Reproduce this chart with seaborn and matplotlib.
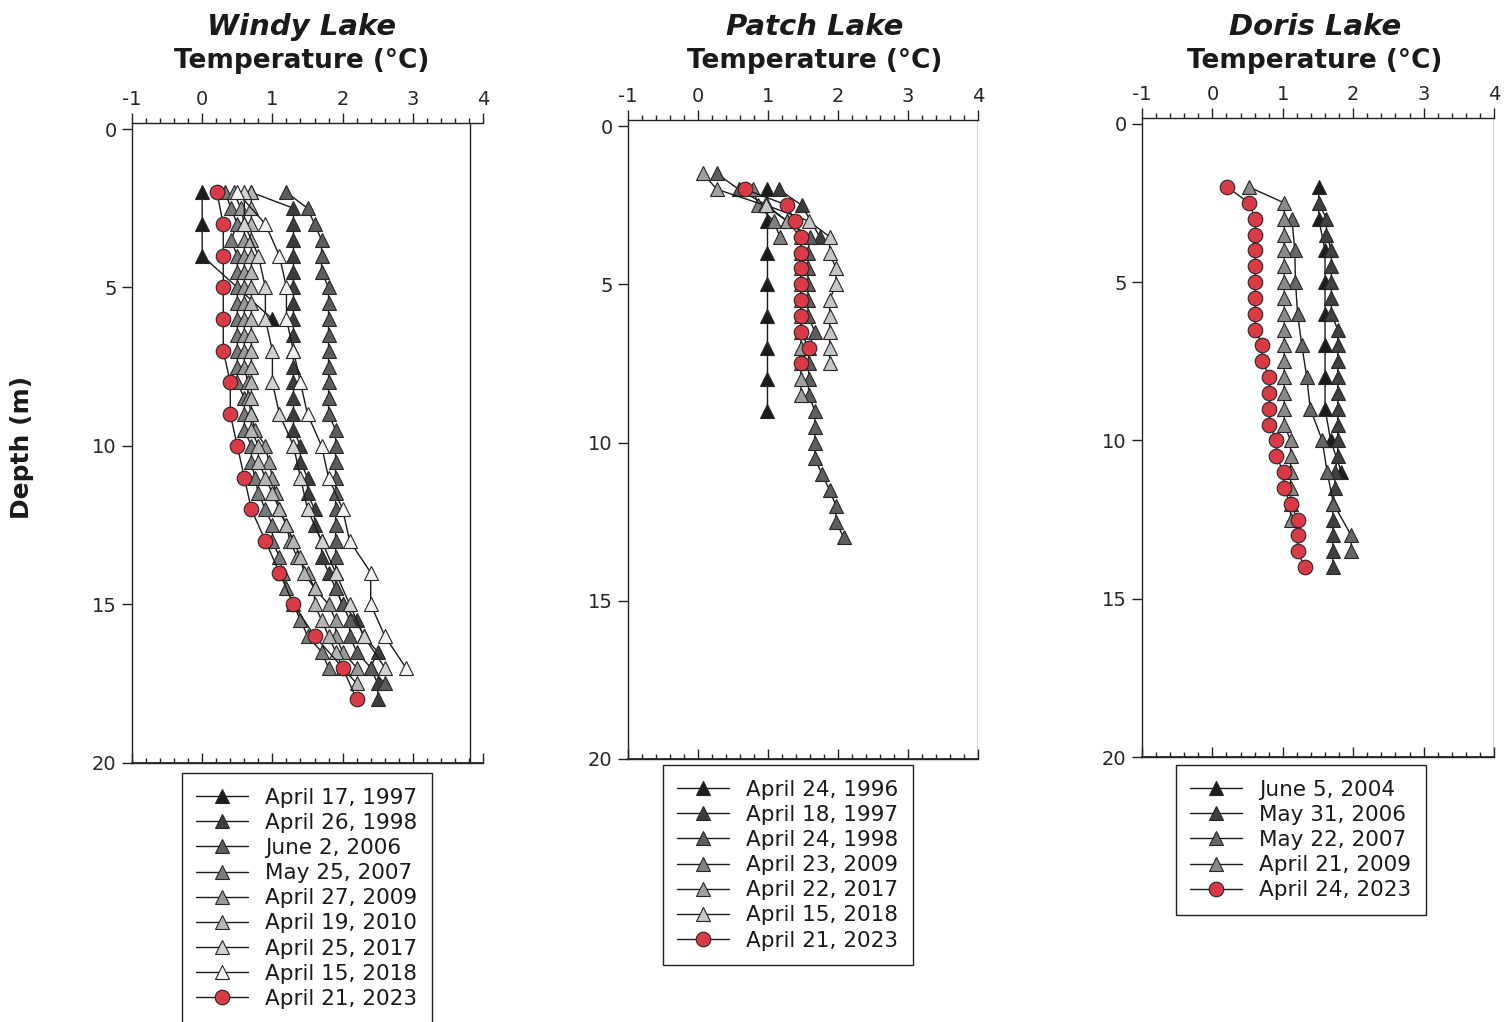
import matplotlib
matplotlib.use('Agg')
import matplotlib.pyplot as plt
from matplotlib.ticker import MultipleLocator
import seaborn as sns

sns.set_theme(style='white')
plt.rcParams['font.family'] = ['DejaVu Sans']
plt.rcParams['axes.unicode_minus'] = False

W, H = 1505, 1022

# ── Windy Lake profiles (depth m, temperature °C) ─────────────────────
windy_labels = ['April 17, 1997', 'April 26, 1998', 'June 2, 2006', 'May 25, 2007',
                'April 27, 2009', 'April 19, 2010', 'April 25, 2017', 'April 15, 2018',
                'April 21, 2023']
windy_1997_d = [2, 3, 4, 6]
windy_1997_t = [0.0, 0.0, 0.0, 1.0]
windy_1998_d = [2, 2.5, 3, 3.5, 4, 4.5, 5, 5.5, 6, 6.5, 7, 7.5, 8, 8.5, 9, 9.5, 10, 10.5,
                11, 11.5, 12, 12.5, 13, 13.5, 14, 14.5, 15, 15.5, 16, 16.5, 17, 17.5, 18]
windy_1998_t = [0.7, 1.3, 1.3, 1.3, 1.3, 1.3, 1.3, 1.3, 1.3, 1.3, 1.3, 1.3, 1.3, 1.3, 1.3, 1.3,
                1.4, 1.4, 1.5, 1.5, 1.6, 1.6, 1.7, 1.7, 1.8, 1.9, 2.0, 2.2, 2.3, 2.5, 2.4, 2.5, 2.5]
windy_2006_d = [2, 2.5, 3, 3.5, 4, 4.5, 5, 5.5, 6, 6.5, 7, 7.5, 8, 8.5, 9, 9.5, 10, 10.5,
                11, 11.5, 12, 12.5, 13, 13.5, 14, 14.5, 15, 15.5, 16, 16.5, 17, 17.5]
windy_2006_t = [1.2, 1.5, 1.6, 1.7, 1.7, 1.7, 1.8, 1.8, 1.8, 1.8, 1.8, 1.8, 1.8, 1.8, 1.8,
                1.9, 1.9, 1.9, 1.9, 1.9, 1.9, 1.9, 1.9, 1.9, 1.9, 1.9, 2.0, 2.1, 2.1, 2.2, 2.4, 2.6]
windy_2007_d = [2, 2.5, 3, 3.5, 4, 4.5, 5, 5.5, 6, 6.5, 7, 7.5, 8, 8.5, 9, 9.5, 10, 10.5,
                11, 11.5, 12, 12.5, 13, 13.5, 14, 14.5, 15, 15.5, 16, 16.5, 17]
windy_2007_t = [0.33, 0.41, 0.5, 0.41, 0.5, 0.5, 0.5, 0.5, 0.5, 0.5, 0.5, 0.5, 0.5, 0.6, 0.6,
                0.6, 0.7, 0.7, 0.75, 0.8, 0.9, 1.0, 1.0, 1.1, 1.15, 1.2, 1.3, 1.4, 1.5, 1.7, 1.8]
windy_2009_d = [2, 2.5, 3, 3.5, 4, 4.5, 5, 5.5, 6, 6.5, 7, 7.5, 8, 8.5, 9, 9.5, 10, 10.5,
                11, 11.5, 12, 12.5, 13, 13.5, 14, 14.5, 15, 15.5, 16, 16.5, 17]
windy_2009_t = [0.45, 0.55, 0.6, 0.6, 0.6, 0.6, 0.6, 0.6, 0.6, 0.6, 0.6, 0.6, 0.65, 0.65, 0.7,
                0.75, 0.9, 0.95, 1.0, 1.05, 1.1, 1.2, 1.25, 1.35, 1.5, 1.6, 1.8, 1.9, 1.9, 2.0, 2.2]
windy_2010_d = [2, 2.5, 3, 3.5, 4, 4.5, 5, 5.5, 6, 6.5, 7, 7.5, 8, 8.5, 9, 9.5, 10, 10.5,
                11, 11.5, 12, 12.5, 13, 13.5, 14, 14.5, 15, 15.5, 16, 16.5, 17, 17.5]
windy_2010_t = [0.7, 0.7, 0.7, 0.7, 0.7, 0.7, 0.7, 0.7, 0.7, 0.7, 0.7, 0.7, 0.7, 0.7, 0.7, 0.7,
                0.8, 0.8, 0.9, 1.0, 1.1, 1.2, 1.3, 1.4, 1.45, 1.6, 1.6, 1.7, 1.8, 1.9, 2.0, 2.2]
windy_2017_d = [2, 3, 4, 5, 6, 7, 8, 9, 10, 11, 12, 13, 14, 15, 16, 17]
windy_2017_t = [0.6, 0.6, 0.8, 0.9, 0.9, 1.0, 1.0, 1.1, 1.3, 1.4, 1.5, 1.7, 1.9, 2.1, 2.3, 2.6]
windy_2018_d = [2, 3, 4, 5, 6, 7, 8, 9, 10, 11, 12, 13, 14, 15, 16, 17]
windy_2018_t = [0.5, 0.9, 1.1, 1.2, 1.2, 1.3, 1.4, 1.5, 1.7, 1.8, 2.0, 2.1, 2.4, 2.4, 2.6, 2.9]
windy_2023_d = [2, 3, 4, 5, 6, 7, 8, 9, 10, 11, 12, 13, 14, 15, 16, 17, 18]
windy_2023_t = [0.21, 0.3, 0.3, 0.3, 0.3, 0.3, 0.4, 0.4, 0.5, 0.6, 0.7, 0.9, 1.1, 1.3, 1.6, 2.0, 2.2]

# ── Patch Lake ─────────────────────────────────────────────────────────
patch_labels = ['April 24, 1996', 'April 18, 1997', 'April 24, 1998', 'April 23, 2009',
                'April 22, 2017', 'April 15, 2018', 'April 21, 2023']
patch_1996_d = [2, 3, 4, 5, 6, 7, 8, 9]
patch_1996_t = [0.98, 0.98, 0.98, 0.98, 0.98, 0.98, 0.98, 0.98]
patch_1997_d = [2, 2.5, 3.5]
patch_1997_t = [1.15, 1.48, 1.74]
patch_1998_d = [1.5, 2, 2.5, 3, 3.5, 4, 4.5, 5, 5.5, 6, 6.5, 7, 7.5, 8, 8.5, 9, 9.5, 10,
                10.5, 11, 11.5, 12, 12.5, 13]
patch_1998_t = [0.27, 0.58, 0.98, 1.27, 1.6, 1.57, 1.57, 1.57, 1.57, 1.57, 1.67, 1.58, 1.58,
                1.58, 1.58, 1.67, 1.67, 1.67, 1.67, 1.77, 1.88, 1.97, 1.97, 2.08]
patch_2009_d = [2, 2.5, 3, 3.5]
patch_2009_t = [0.79, 0.86, 1.08, 1.17]
patch_2017_d = [1.5, 2, 2.5, 3, 3.5, 4, 4.5, 5, 5.5, 6, 6.5, 7, 7.5, 8, 8.5]
patch_2017_t = [0.07, 0.27, 0.95, 1.27, 1.47, 1.47, 1.47, 1.47, 1.47, 1.47, 1.47, 1.47, 1.47,
                1.47, 1.47]
patch_2018_d = [2.5, 3, 3.5, 4, 4.5, 5, 5.5, 6, 6.5, 7, 7.5]
patch_2018_t = [0.97, 1.58, 1.88, 1.88, 1.97, 1.97, 1.88, 1.88, 1.88, 1.88, 1.88]
patch_2023_d = [2, 2.5, 3, 3.5, 4, 4.5, 5, 5.5, 6, 6.5, 7, 7.5]
patch_2023_t = [0.67, 1.27, 1.38, 1.47, 1.47, 1.47, 1.47, 1.47, 1.47, 1.47, 1.58, 1.47]

# ── Doris Lake ─────────────────────────────────────────────────────────
doris_labels = ['June 5, 2004', 'May 31, 2006', 'May 22, 2007', 'April 21, 2009',
                'April 24, 2023']
doris_2004_d = [2, 3, 4, 5, 6, 7, 8, 9, 10, 11]
doris_2004_t = [1.51, 1.51, 1.6, 1.6, 1.6, 1.6, 1.6, 1.6, 1.68, 1.83]
doris_2006_d = [2.5, 3, 3.5, 4, 4.5, 5, 5.5, 6, 6.5, 7, 7.5, 8, 8.5, 9, 9.5, 10, 10.5, 11,
                11.5, 12, 12.5, 13, 13.5, 14]
doris_2006_t = [1.51, 1.62, 1.62, 1.69, 1.69, 1.69, 1.69, 1.69, 1.78, 1.78, 1.78, 1.78, 1.78,
                1.78, 1.78, 1.78, 1.78, 1.74, 1.74, 1.71, 1.71, 1.71, 1.71, 1.71]
doris_2007_d = [3, 4, 5, 6, 7, 8, 9, 10, 11, 12, 13, 13.5]
doris_2007_t = [1.13, 1.17, 1.18, 1.21, 1.27, 1.34, 1.39, 1.56, 1.63, 1.72, 1.97, 1.97]
doris_2009_d = [2, 2.5, 3, 3.5, 4, 4.5, 5, 5.5, 6, 6.5, 7, 7.5, 8, 8.5, 9, 9.5, 10, 10.5,
                11, 11.5, 12, 12.5]
doris_2009_t = [0.52, 1.02, 1.02, 1.02, 1.02, 1.02, 1.02, 1.02, 1.02, 1.02, 1.02, 1.02, 1.02,
                1.02, 1.02, 1.02, 1.11, 1.11, 1.11, 1.11, 1.11, 1.11]
doris_2023_d = [2, 2.5, 3, 3.5, 4, 4.5, 5, 5.5, 6, 6.5, 7, 7.5, 8, 8.5, 9, 9.5, 10, 10.5,
                11, 11.5, 12, 12.5, 13, 13.5, 14]
doris_2023_t = [0.21, 0.52, 0.61, 0.61, 0.61, 0.61, 0.61, 0.61, 0.61, 0.61, 0.71, 0.71, 0.81,
                0.81, 0.81, 0.81, 0.91, 0.91, 1.01, 1.01, 1.11, 1.21, 1.21, 1.21, 1.31]

RED = '#d93a46'
EDGE = '#262626'
INK = '#1a1a1a'

windy = [
    (windy_1997_d, windy_1997_t, '^', '#1c1c1c'),
    (windy_1998_d, windy_1998_t, '^', '#3d3d3d'),
    (windy_2006_d, windy_2006_t, '^', '#5c5c5c'),
    (windy_2007_d, windy_2007_t, '^', '#7a7a7a'),
    (windy_2009_d, windy_2009_t, '^', '#999999'),
    (windy_2010_d, windy_2010_t, '^', '#b5b5b5'),
    (windy_2017_d, windy_2017_t, '^', '#d2d2d2'),
    (windy_2018_d, windy_2018_t, '^', '#f2f2f2'),
    (windy_2023_d, windy_2023_t, 'o', RED),
]
patch = [
    (patch_1996_d, patch_1996_t, '^', '#1c1c1c'),
    (patch_1997_d, patch_1997_t, '^', '#3d3d3d'),
    (patch_1998_d, patch_1998_t, '^', '#5e5e5e'),
    (patch_2009_d, patch_2009_t, '^', '#808080'),
    (patch_2017_d, patch_2017_t, '^', '#a0a0a0'),
    (patch_2018_d, patch_2018_t, '^', '#c6c6c6'),
    (patch_2023_d, patch_2023_t, 'o', RED),
]
doris = [
    (doris_2004_d, doris_2004_t, '^', '#1c1c1c'),
    (doris_2006_d, doris_2006_t, '^', '#404040'),
    (doris_2007_d, doris_2007_t, '^', '#666666'),
    (doris_2009_d, doris_2009_t, '^', '#8a8a8a'),
    (doris_2023_d, doris_2023_t, 'o', RED),
]


def draw_lake(fig, box, name, series, labels, right_x, title_cx, leg_cx, leg_top):
    x0, x1, y0, y1 = box            # pixel edges of the plotting area
    ax = fig.add_axes([x0 / W, 1 - y1 / H, (x1 - x0) / W, (y1 - y0) / H])
    for (d, t, m, fc), lab in zip(series, labels):
        sns.lineplot(x=t, y=d, orient='y', estimator=None, sort=False, ax=ax,
                     color=INK, lw=1.0, marker=m, markersize=10.5,
                     markerfacecolor=fc, markeredgecolor=EDGE, markeredgewidth=0.8,
                     label=lab)

    ax.set_xlim(-1, 4)
    ax.set_ylim(20, -0.19)

    # top axis with labels, ticks pointing outward
    ax.xaxis.tick_top()
    ax.xaxis.set_label_position('top')
    ax.set_xticks([-1, 0, 1, 2, 3, 4])
    ax.xaxis.set_minor_locator(MultipleLocator(0.2))
    ax.tick_params(axis='x', which='major', top=True, bottom=False, direction='out',
                   length=7, width=1, labelsize=14, pad=3, color='#222222')
    ax.tick_params(axis='x', which='minor', top=True, bottom=False, direction='out',
                   length=3.5, width=1, color='#222222')
    # bottom edge: ticks pointing into the plot, no labels
    sec = ax.secondary_xaxis('bottom')
    sec.set_xticks([-1, 0, 1, 2, 3, 4])
    sec.xaxis.set_minor_locator(MultipleLocator(0.2))
    sec.tick_params(which='both', bottom=True, direction='in', labelbottom=False,
                    color='#222222', width=1)
    sec.tick_params(which='major', length=7)
    sec.tick_params(which='minor', length=3.5)
    sec.spines['bottom'].set_color('#222222')

    ax.set_yticks([0, 5, 10, 15, 20])
    ax.tick_params(axis='y', left=True, right=False, direction='out', length=7,
                   width=1, labelsize=14, pad=4, color='#222222')
    ax.set_ylabel('')

    # title and axis label at fixed heights (27 px and 60 px from the top)
    hpx = y1 - y0
    cx = (title_cx - x0) / (x1 - x0)
    ax.set_xlabel('Temperature (°C)', fontsize=19, fontweight='bold', color=INK)
    ax.xaxis.set_label_coords(cx, 1 + (y0 - 61) / hpx)
    ax.xaxis.label.set_verticalalignment('center')
    ax.set_title(name, fontsize=21, fontweight='bold', fontstyle='italic', color=INK,
                 x=cx, y=1 + (y0 - 27) / hpx, va='center', pad=0)

    for s in ['top', 'bottom', 'left']:
        ax.spines[s].set_color('#222222')
        ax.spines[s].set_linewidth(1)
    ax.spines['right'].set_visible(False)
    ax.axvline(right_x, color='#222222', lw=1)

    h, l = ax.get_legend_handles_labels()
    leg = ax.legend(h, l, loc='upper center', bbox_to_anchor=(leg_cx / W, 1 - leg_top / H),
                    bbox_transform=fig.transFigure, fontsize=15.5, frameon=True,
                    fancybox=False, edgecolor='#222222', framealpha=1, handlelength=2.4,
                    handletextpad=0.8, labelspacing=0.24, borderpad=0.68, borderaxespad=0)
    leg.get_frame().set_linewidth(1)
    for t in leg.get_texts():
        t.set_color(INK)
    return ax


fig = plt.figure(figsize=(W / 100, H / 100), dpi=100, facecolor='white')

draw_lake(fig, (132, 483, 123, 762.7), 'Windy Lake', windy, windy_labels,
          3.82, 302, 307, 773)
draw_lake(fig, (628, 978, 120, 759), 'Patch Lake', patch, patch_labels,
          4.0, 815, 788, 765)
draw_lake(fig, (1142, 1494, 117.7, 757), 'Doris Lake', doris, doris_labels,
          4.0, 1315, 1301, 765)

fig.text(22 / W, 1 - 447 / H, 'Depth (m)', rotation=90, ha='center', va='center',
         fontsize=18, fontweight='bold', color=INK)

fig.savefig('out.png', dpi=100, facecolor='white')
